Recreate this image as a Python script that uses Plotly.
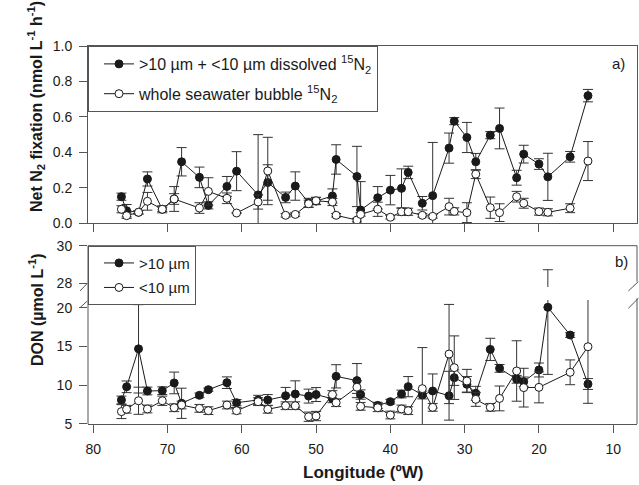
import plotly.graph_objects as go

# station longitudes (ºW), shared by both panels
lon = [76.2, 75.5, 73.9, 72.7, 70.7, 69.1, 68.1, 65.7, 64.5, 62.0,
       60.7, 57.8, 56.5, 54.1, 52.8, 51.0, 50.0, 47.8, 47.3, 44.5,
       44.0, 41.7, 40.0, 38.5, 37.6, 35.7, 34.3, 32.1, 31.4, 29.7,
       28.5, 26.55, 25.3, 23.0, 22.05, 20.0, 18.8, 15.8, 13.4]

# panel a: net N2 fixation (nmol L-1 h-1)
fix_size = [0.15, 0.071, 0.062, 0.25, 0.079, 0.137, 0.347, 0.259, 0.101, 0.208,
            0.294, 0.16, 0.23, 0.146, 0.21, 0.116, 0.125, 0.154, 0.36, 0.264,
            0.075, 0.144, 0.187, 0.197, 0.287, 0.113, 0.156, 0.424, 0.576, 0.484,
            0.347, 0.497, 0.535, 0.257, 0.39, 0.334, 0.262, 0.375, 0.72]
fix_size_err = [0.02, 0.035, 0.01, 0.04, 0.012, 0.03, 0.08, 0.058, 0.02, 0.056,
                0.11, 0.34, 0.1, 0.03, 0.08, 0.025, 0.02, 0.04, 0.083, 0.17,
                0.16, 0.063, 0.083, 0.11, 0.035, 0.038, 0.3, 0.085, 0.02, 0.085,
                0.047, 0.02, 0.115, 0.042, 0.05, 0.03, 0.133, 0.03, 0.035]
fix_bubble = [0.079, 0.043, 0.062, 0.124, 0.079, 0.137, None, 0.086, 0.18, 0.141,
              0.058, 0.12, 0.295, 0.045, 0.05, 0.11, 0.127, 0.12, 0.045, 0.018,
              0.05, 0.079, 0.034, 0.065, 0.065, 0.045, 0.039, 0.094, 0.067, 0.06,
              0.277, 0.088, 0.06, 0.15, 0.113, 0.066, 0.062, 0.085, 0.351]
fix_bubble_err = [0.02, 0.015, 0.01, 0.05, 0.02, 0.07, 0, 0.03, 0.077, 0.03,
                  0.0, 0.04, 0.19, 0.01, 0.01, 0.02, 0.02, 0.02, 0.01, 0.01,
                  0.01, 0.04, 0.01, 0.02, 0.02, 0.01, 0.01, 0.047, 0.02, 0.056,
                  0.025, 0.06, 0.05, 0.03, 0.028, 0.02, 0.02, 0.025, 0.11]

# panel b: DON (umol L-1)
don_large = [8.1, 9.8, 14.7, 9.26, 9.3, 10.3, 7.67, 8.7, 9.43, 10.33,
             7.75, 8.1, 8.1, 8.65, 8.87, 8.6, 8.8, 8.25, 11.15, 10.6,
             8.8, 7.4, 7.88, 8.87, 9.82, 8.74, 9.26, 8.65, 10.98, 10.12,
             8.96, 14.63, 12.18, 10.77, 10.46, 11.97, 20.06, 16.48, 10.16]
don_large_err = [0.5, 0.75, 5.7, 0.5, 0.5, 1.4, 1.95, 0.3, 0.2, 0.75,
                 0.4, 0.6, 0.7, 1.07, 1.7, 0.9, 0.9, 0.5, 1.5, 2.2,
                 0.6, 0.4, 0.3, 0.5, 1.3, 0.5, 2.2, 3.15, 1.0, 1.0,
                 0.9, 1.43, 0.5, 0.5, 0.6, 0.9, 8.66, 0.3, 0.7]
don_small = [6.6, 6.9, 8.0, 6.94, 8.0, 7.1, 7.45, 7.02, 6.72, 7.45,
             6.72, 7.88, 6.9, 7.36, 7.36, 5.94, 6.03, 8.8, 7.75, 9.75,
             7.28, 7.1, 6.16, 6.94, 6.72, 9.56, 7.15, 14.03, 12.27, 10.55,
             8.18, 7.15, 8.3, 11.84, 9.69, 9.73, None, 11.67, 14.97]
don_small_err = [0.9, 0.5, 1.75, 0.5, 0.6, 0.5, 0.5, 0.5, 0.5, 0.5,
                 0.4, 0.5, 0.5, 0.5, 0.5, 0.6, 0.6, 0.5, 0.5, 0.8,
                 0.5, 0.5, 0.5, 0.5, 0.5, 5.3, 0.5, 6.4, 4.1, 1.5,
                 0.9, 0.5, 1.6, 3.9, 2.5, 2.0, 0, 1.6, 7.3]

font = "Arial, Liberation Sans, sans-serif"
ink = "#1a1a1a"
frame = "#555555"

# domains (paper units)
a_dom = [0.531, 1.0]
b_top = 0.4717
b_hi_dom = [0.3624, b_top]
b_lo_dom = [0.0, 0.328]

fig = go.Figure()


def series(x, y, err, filled, name, xa, ya, legend):
    return go.Scatter(
        x=x, y=y, name=name, mode="lines+markers", connectgaps=True,
        xaxis=xa, yaxis=ya, legend=legend, legendgroup=name,
        line=dict(color=ink, width=1),
        marker=dict(size=8, symbol="circle",
                    color=ink if filled else "white",
                    line=dict(color=ink, width=1)),
        error_y=dict(type="data", array=err, visible=True,
                     color="#333333", thickness=1, width=5),
    )


fig.add_trace(series(lon, fix_size, fix_size_err, True,
                     ">10 µm + <10 µm dissolved <sup>15</sup>N<sub>2</sub>", "x", "y", "legend"))
fig.add_trace(series(lon, fix_bubble, fix_bubble_err, False,
                     "whole seawater bubble <sup>15</sup>N<sub>2</sub>", "x", "y", "legend"))
fig.add_trace(series(lon, don_large, don_large_err, True, ">10 µm", "x2", "y2", "legend2"))
fig.add_trace(series(lon, don_small, don_small_err, False, "<10 µm", "x2", "y2", "legend2"))

# error bar that runs across the axis break: upper part drawn on the upper segment
brk_x = [lon[i] for i, v in enumerate(don_large) if v + don_large_err[i] > 21]
brk_top = [don_large[i] + don_large_err[i] for i, v in enumerate(don_large) if v + don_large_err[i] > 21]
fig.add_trace(go.Scatter(
    x=brk_x, y=brk_top, mode="markers", xaxis="x2", yaxis="y3", showlegend=False,
    marker=dict(size=1, color="rgba(0,0,0,0)"),
    error_y=dict(type="data", symmetric=False, array=[0] * len(brk_x), arrayminus=[3] * len(brk_x),
                 color="#333333", thickness=1, width=5),
))

xr = [80.7, 6.8]
tickfont = dict(family=font, size=14, color=ink)
axcommon = dict(ticks="outside", ticklen=8, tickwidth=1, tickcolor=frame,
                linecolor=frame, linewidth=1, showgrid=False, zeroline=False,
                tickfont=tickfont)

fig.update_layout(
    width=639, height=485,
    margin=dict(l=88, r=2, t=46, b=61),
    paper_bgcolor="white", plot_bgcolor="white",
    font=dict(family=font, size=14, color=ink),
    xaxis=dict(domain=[0, 1], anchor="y", range=xr, dtick=10, showticklabels=False,
               showline=True, mirror=True, **axcommon),
    yaxis=dict(domain=a_dom, anchor="x", range=[0, 1.0], dtick=0.2, tickformat=".1f",
               showline=True, mirror=True, ticklabelstandoff=4, **axcommon),
    xaxis2=dict(domain=[0, 1], anchor="y2", range=xr, dtick=10, showline=True,
                ticklabelstandoff=4, **axcommon),
    yaxis2=dict(domain=b_lo_dom, anchor="x2", range=[5, 21.0], tickvals=[5, 10, 15, 20],
                showline=False, ticklabelstandoff=4, **axcommon),
    yaxis3=dict(domain=b_hi_dom, anchor="x2", range=[27.8, 30], tickvals=[28, 30],
                showline=False, ticklabelstandoff=4, **axcommon),
    legend=dict(x=0, y=1, xanchor="left", yanchor="top", xref="paper", yref="paper",
                bgcolor="white", bordercolor=frame, borderwidth=1,
                traceorder="grouped", tracegroupgap=6, indentation=10,
                font=dict(family=font, size=16, color=ink)),
    legend2=dict(x=0, y=b_top, xanchor="left", yanchor="top", xref="paper", yref="paper",
                 bgcolor="white", bordercolor=frame, borderwidth=1,
                 traceorder="grouped", tracegroupgap=2, indentation=10,
                 font=dict(family=font, size=15, color=ink)),
    showlegend=True,
)

# frame of the broken panel b
lw = dict(color=frame, width=1)
shapes = [
    dict(type="line", xref="paper", yref="paper", x0=0, x1=0, y0=0, y1=b_top, line=lw),
    dict(type="line", xref="paper", yref="paper", x0=0, x1=1, y0=b_top, y1=b_top, line=lw),
    dict(type="line", xref="paper", yref="paper", x0=1, x1=1, y0=0.3765, y1=b_top, line=lw),
    dict(type="line", xref="paper", yref="paper", x0=1, x1=1, y0=0, y1=0.3325, line=lw),
    # break marks
    dict(type="line", xref="paper", yref="paper", x0=-0.0146, x1=-0.0013, y0=0.3519, y1=0.3722, line=lw),
    dict(type="line", xref="paper", yref="paper", x0=-0.0146, x1=-0.0013, y0=0.3077, y1=0.3254, line=lw),
    dict(type="line", xref="paper", yref="paper", x0=0.9842, x1=1.0024, y0=0.3519, y1=0.3765, line=lw),
    dict(type="line", xref="paper", yref="paper", x0=0.9842, x1=1.0024, y0=0.3061, y1=0.3325, line=lw),
]
fig.update_layout(shapes=shapes)

ann = dict(xref="paper", yref="paper", showarrow=False)
fig.add_annotation(text="a)", x=0.9818, y=0.955, xanchor="right", yanchor="middle",
                   font=dict(family=font, size=15, color=ink), **ann)
fig.add_annotation(text="b)", x=0.9872, y=0.43, xanchor="right", yanchor="middle",
                   font=dict(family=font, size=15, color=ink), **ann)
fig.add_annotation(text="<b>Net N<sub>2</sub> fixation (nmol L<sup>-1</sup> h<sup>-1</sup>)</b>",
                   x=-0.0947, y=0.8386, xanchor="center", yanchor="middle", textangle=-90,
                   font=dict(family=font, size=16, color=ink), **ann)
fig.add_annotation(text="<b>DON (µmol L<sup>-1</sup>)</b>",
                   x=-0.0947, y=0.3016, xanchor="center", yanchor="middle", textangle=-90,
                   font=dict(family=font, size=16, color=ink), **ann)
fig.add_annotation(text="<b>Longitude (ºW)</b>", x=0.5, y=-0.127, xanchor="center", yanchor="middle",
                   font=dict(family=font, size=17, color=ink), **ann)

# the page body has a default 8px margin; remove it so the figure fills the window
fig.write_html("out.html", config={"displayModeBar": False},
               post_script="document.body.style.margin='0';")
